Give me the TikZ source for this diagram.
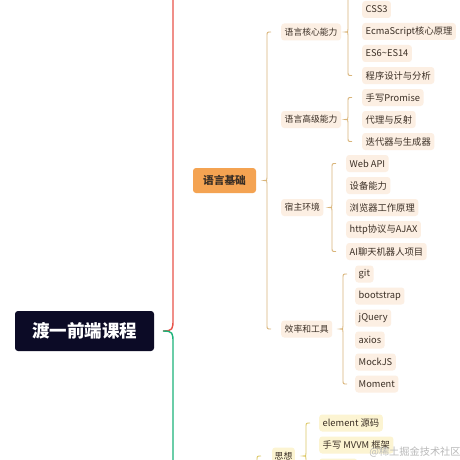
\documentclass[tikz,border=0pt]{standalone}
\usepackage{fontspec}
\setmainfont{Noto Sans CJK SC}
\usetikzlibrary{calc}
\definecolor{rootc}{HTML}{0C0B26}
\definecolor{orangec}{HTML}{F4A352}
\definecolor{peach}{HTML}{FCEFE3}
\definecolor{lemon}{HTML}{FCF4D2}
\definecolor{tanc}{HTML}{D9B57A}
\definecolor{yelc}{HTML}{DCC866}
\definecolor{redc}{HTML}{E8534A}
\definecolor{greenc}{HTML}{1DB37A}
\definecolor{txtc}{HTML}{3B2F25}
\newcommand\mmbrace[5]{% #1 x, #2 parent, #3 first child, #4 last child, #5 style
  \coordinate (tmpx) at (#1,0);
  \draw[#5] ($(tmpx |- #3)+(4,0)$) .. controls (tmpx |- #3) .. ($(tmpx |- #3)+(0,4)$)
    -- ($(tmpx |- #2)+(0,-3)$) .. controls (tmpx |- #2) .. ($(tmpx |- #2)+(-3,0)$)
    .. controls (tmpx |- #2) .. ($(tmpx |- #2)+(0,3)$)
    -- ($(tmpx |- #4)+(0,-4)$) .. controls (tmpx |- #4) .. ($(tmpx |- #4)+(4,0)$);
}
\begin{document}
\begin{tikzpicture}[x=1pt,y=-1pt,
  rootbox/.style={fill=rootc, rounded corners=3pt, text=white,
    font=\fontsize{17.5}{20}\selectfont\bfseries, minimum width=139pt,
    minimum height=40pt, inner sep=0pt},
  l1box/.style={fill=orangec, rounded corners=3pt, text=txtc,
    font=\fontsize{10.7}{12}\selectfont\bfseries, minimum width=63pt,
    minimum height=25pt, inner sep=0pt},
  l2box/.style={fill=peach, rounded corners=3pt, text=txtc, anchor=west,
    font=\fontsize{8.8}{10}\selectfont, inner xsep=3.5pt, inner ysep=0pt,
    minimum height=17pt},
  l3box/.style={fill=peach, rounded corners=3pt, text=txtc, anchor=west,
    font=\fontsize{9.3}{11}\selectfont, inner xsep=3.5pt, inner ysep=0pt,
    minimum height=17pt},
  brc/.style={tanc, line width=0.9pt},
  bry/.style={yelc, line width=0.9pt},
  trunk/.style={line width=1.4pt}
]
\useasboundingbox (0,0) rectangle (460,460);
\fill[white] (0,0) rectangle (460,460);
\clip (0,0) rectangle (460,460);

% root
\node[rootbox] (root) at (84.5,331) {渡一前端课程};
\coordinate (rtip) at (163,331);
\draw[trunk, redc] (rtip) .. controls (173,331) and (173,329) .. (173,319) -- (173,-5);
\draw[trunk, greenc] (rtip) .. controls (173,331) and (173,333) .. (173,343) -- (173,470);

% level 1
\node[l1box] (yyjc) at (224.5,180.5) {语言基础};

% level 2
\node[l2box] (hx) at (281,32) {语言核心能力};
\node[l2box] (gj) at (281,119.5) {语言高级能力};
\node[l2box] (sz) at (281,207.5) {宿主环境};
\node[l2box] (xl) at (281,329) {效率和工具};
\mmbrace{267}{yyjc}{hx}{xl}{brc}

% core
\coordinate (c0) at (362,-13);
\node[l3box] (c1) at (362,9.5) {CSS3};
\node[l3box] (c2) at (362,31.5) {EcmaScript核心原理};
\node[l3box] (c3) at (362,53.5) {ES6\textasciitilde ES14};
\node[l3box] (c4) at (362,75.5) {程序设计与分析};
\mmbrace{348}{hx}{c0}{c4}{brc}

% advanced
\node[l3box] (a1) at (362,97.5) {手写Promise};
\node[l3box] (a2) at (362,119.5) {代理与反射};
\node[l3box] (a3) at (362,141.5) {迭代器与生成器};
\mmbrace{348}{gj}{a1}{a3}{brc}

% host
\node[l3box] (h1) at (346,163.5) {Web API};
\node[l3box] (h2) at (346,185.5) {设备能力};
\node[l3box] (h3) at (346,207.5) {浏览器工作原理};
\node[l3box] (h4) at (346,229.5) {http协议与AJAX};
\node[l3box] (h5) at (346,251.5) {AI聊天机器人项目};
\mmbrace{332}{sz}{h1}{h5}{brc}

% tools
\node[l3box] (t1) at (355,274) {git};
\node[l3box] (t2) at (355,296) {bootstrap};
\node[l3box] (t3) at (355,318) {jQuery};
\node[l3box] (t4) at (355,340) {axios};
\node[l3box] (t5) at (355,362) {MockJS};
\node[l3box] (t6) at (355,384) {Moment};
\mmbrace{343}{xl}{t1}{t6}{brc}

% thought
\node[l2box, fill=lemon, inner xsep=2.5pt] (sx) at (272,456) {思想};
\node[l3box, fill=lemon] (s1) at (319,423) {element 源码};
\node[l3box, fill=lemon] (s2) at (319,445) {手写 MVVM 框架};
\node[l3box, fill=lemon, minimum width=38pt] (s3) at (319,467) {};
\coordinate (s4) at (319,489);
\mmbrace{306}{sx}{s1}{s4}{bry}
\draw[bry] ($(sx.west)+(-11,0)$) .. controls ($(sx.west)+(-15,0)$) .. ($(sx.west)+(-15,4)$) -- ($(sx.west)+(-15,20)$);

% watermark
\node[text=gray!55, font=\fontsize{10.2}{12}\selectfont] (wm) at (415,452) {@稀土掘金技术社区};
\end{tikzpicture}
\end{document}
